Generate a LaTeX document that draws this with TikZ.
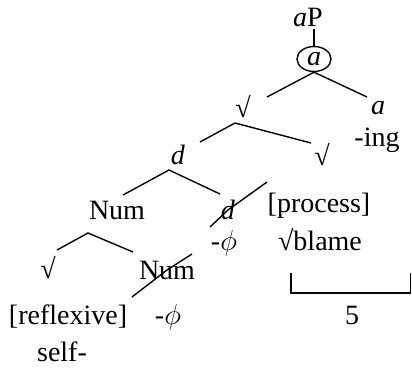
\documentclass[tikz,border=0pt]{standalone}
\usepackage{fontspec}
\setmainfont{Liberation Serif}
\usetikzlibrary{shapes.geometric}

\begin{document}
\begin{tikzpicture}[x=0.5pt, y=-0.5pt,
  lbl/.style={font=\fontsize{14}{16}\selectfont, inner sep=1pt},
  br/.style={line width=0.7pt},
]
\useasboundingbox (0,0) rectangle (412,370);
% head of the tree
\node[lbl] (aP) at (308,17) {\textit{a}P};
\node[lbl, draw, ellipse, line width=0.7pt, inner sep=0pt,
      minimum width=17pt, minimum height=12.5pt] (acirc) at (314,59) {\textit{a}};
\draw[br] (aP.south -| acirc) -- (acirc.north);

\node[lbl] (sq1) at (243,107) {√};
\node[lbl] (a2) at (378,108) {\textit{a}};
\node[lbl] (ing) at (377,140) {-ing};
\node[lbl] (d1) at (178,155) {\textit{d}};
\node[lbl] (sq2) at (322,155) {√};
\node[lbl] (num1) at (117,210) {Num};
\node[lbl] (d2) at (228,210) {\textit{d}};
\node[lbl] (phi1) at (224,243) {-$\phi$};
\node[lbl] (proc) at (319,206) {[process]};
\node[lbl] (blame) at (320,240) {√blame};
\node[lbl] (sq3) at (48,268) {√};
\node[lbl] (num2) at (167,270) {Num};
\node[lbl] (refl) at (68,317) {[reflexive]};
\node[lbl] (phi2) at (168,317) {-$\phi$};
\node[lbl] (self) at (62,352) {self-};
\node[lbl] (five) at (352,315) {5};

% branch points
\coordinate (acirc-l) at (267,97);
\coordinate (acirc-r) at (367,97);
\coordinate (sq1-b) at (235,123);
\coordinate (sq1-l) at (200,142);
\coordinate (sq1-r) at (311,143);
\coordinate (d1-b) at (169,170);
\coordinate (d1-l) at (123,195);
\coordinate (d1-r) at (220,194);
\coordinate (num1-b) at (88,233);
\coordinate (num1-l) at (57,250);
\coordinate (num1-r) at (133,252);

\draw[br] (acirc-l) -- (acirc.south) -- (acirc-r);
\draw[br] (sq1-l) -- (sq1-b) -- (sq1-r);
\draw[br] (d1-l) -- (d1-b) -- (d1-r);
\draw[br] (num1-l) -- (num1-b) -- (num1-r);

% struck out heads
\coordinate (d2-s1) at (210,227);
\coordinate (d2-s2) at (267,182);
\coordinate (num2-s1) at (132,297);
\coordinate (num2-s2) at (192,254);
\draw[br] (d2-s1) -- (d2.center) -- (d2-s2);
\draw[br] (num2-s1) -- (num2.center) -- (num2-s2);

% bracket
\coordinate (bk-l) at (291,273);
\coordinate (bk-r) at (410.5,273);
\coordinate (bk-b) at (291,293);
\draw[line width=0.9pt] (bk-l) -- (bk-b) -| (bk-r);
\end{tikzpicture}
\end{document}
